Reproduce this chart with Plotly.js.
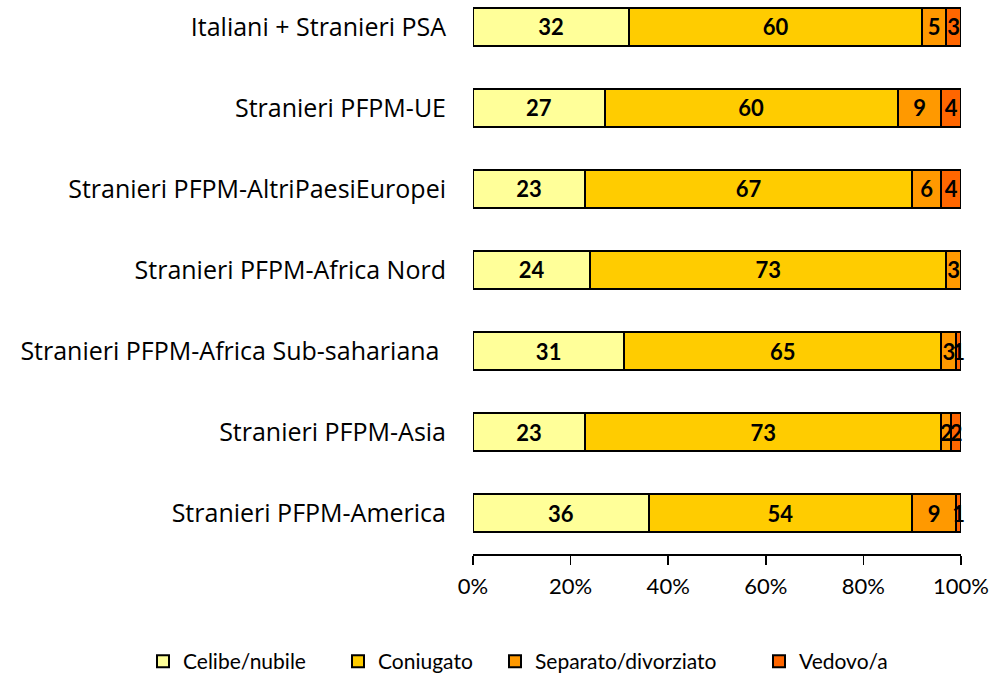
<!DOCTYPE html>
<html><head><meta charset="utf-8">
<script src="https://cdn.plot.ly/plotly-3.0.1.min.js"></script>
<style>body{margin:0;background:#fff}#c{width:994px;height:675px}</style>
</head><body><div id="c"></div>
<script>
const categories = [
  "Italiani + Stranieri PSA",
  "Stranieri PFPM-UE",
  "Stranieri PFPM-AltriPaesiEuropei",
  "Stranieri PFPM-Africa Nord",
  "Stranieri PFPM-Africa Sub-sahariana ",
  "Stranieri PFPM-Asia",
  "Stranieri PFPM-America"
];
const celibe     = [32, 27, 23, 24, 31, 23, 36];
const coniugato  = [60, 60, 67, 73, 65, 73, 54];
const separato   = [5, 9, 6, 3, 3, 2, 9];
const vedovo     = [3, 4, 4, 0.4, 1, 2, 1];
const seriesNames = ["Celibe/nubile", "Coniugato", "Separato/divorziato", "Vedovo/a"];
const seriesColors = ["#FFFF99", "#FFCC00", "#FF9900", "#FF6600"];
const xTickVals = [0, 20, 40, 60, 80, 100];
const xTickText = ["0%", "20%", "40%", "60%", "80%", "100%"];

const FONT = "Lato, 'Open Sans', sans-serif";
const allSeries = [celibe, coniugato, separato, vedovo];
const legendIds = ["legend", "legend2", "legend3", "legend4"];
const traces = allSeries.map((vals, i) => ({
  type: "bar",
  orientation: "h",
  name: seriesNames[i],
  legend: legendIds[i],
  y: categories,
  x: vals,
  text: vals.map(v => v >= 1 ? String(Math.round(v)) : ""),
  textposition: "inside",
  insidetextanchor: "middle",
  constraintext: "none",
  cliponaxis: false,
  textfont: {family: FONT, size: 22, color: "#000", weight: "bold"},
  marker: {color: seriesColors[i], line: {color: "#000", width: 2}},
  hoverinfo: "skip"
}));

const W = 994, H = 675, ML = 473, MR = 33, MT = 0, MB = 121;
const PW = W - ML - MR, PH = H - MT - MB;
const legendLeftPx = [143, 338, 495, 759];
const legendTopPx = 641;

const layout = {
  barmode: "stack",
  bargap: 0.53,
  width: W, height: H,
  margin: {l: ML, r: MR, t: MT, b: MB, autoexpand: false},
  paper_bgcolor: "#fff", plot_bgcolor: "#fff",
  font: {family: FONT, color: "#000", size: 22},
  showlegend: true,
  xaxis: {
    range: [0, 100], tickvals: xTickVals, ticktext: xTickText,
    showgrid: false, zeroline: false, showline: true, linecolor: "#000", linewidth: 1.5,
    ticks: "outside", ticklen: 9, tickwidth: 1.5, tickcolor: "#000",
    ticklabelstandoff: 3,
    tickfont: {family: FONT, size: 22, color: "#000"}, fixedrange: true
  },
  yaxis: {
    type: "category", autorange: false, range: [6.506, -0.333],
    showgrid: false, zeroline: false, showline: false, ticks: "",
    ticklabelstandoff: 26,
    tickfont: {family: "'Open Sans', sans-serif", size: 25, color: "#000"}, fixedrange: true
  }
};
legendIds.forEach((id, i) => {
  layout[id] = {
    orientation: "h",
    x: (legendLeftPx[i] - ML) / PW, xanchor: "left",
    y: -(legendTopPx - (MT + PH)) / PH, yanchor: "top",
    font: {family: FONT, size: 21, color: "#000"},
    itemwidth: 30, bgcolor: "rgba(0,0,0,0)"
  };
});
Plotly.newPlot("c", traces, layout, {displayModeBar: false, staticPlot: true});
</script></body></html>
